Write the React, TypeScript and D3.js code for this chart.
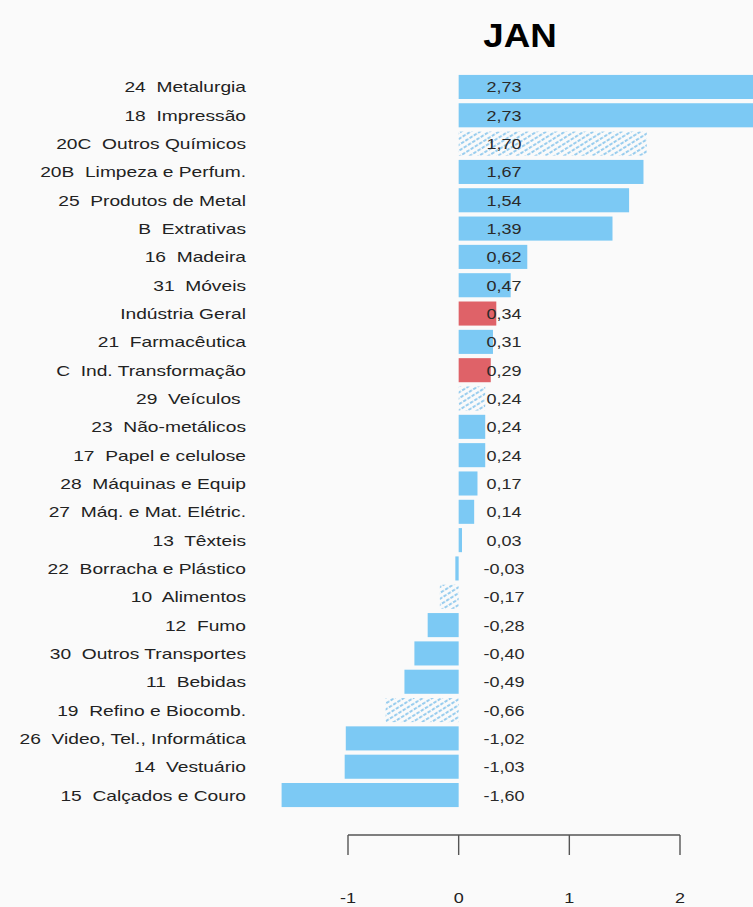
import React from "react";
import * as d3 from "d3";

const categories = [
  "24  Metalurgia",
  "18  Impressão",
  "20C  Outros Químicos",
  "20B  Limpeza e Perfum.",
  "25  Produtos de Metal",
  "B  Extrativas",
  "16  Madeira",
  "31  Móveis",
  "Indústria Geral",
  "21  Farmacêutica",
  "C  Ind. Transformação",
  "29  Veículos ",
  "23  Não-metálicos",
  "17  Papel e celulose",
  "28  Máquinas e Equip",
  "27  Máq. e Mat. Elétric.",
  "13  Têxteis",
  "22  Borracha e Plástico",
  "10  Alimentos",
  "12  Fumo",
  "30  Outros Transportes",
  "11  Bebidas",
  "19  Refino e Biocomb.",
  "26  Video, Tel., Informática",
  "14  Vestuário",
  "15  Calçados e Couro",
];

const values = [
  2.73, 2.73, 1.7, 1.67, 1.54, 1.39, 0.62, 0.47, 0.34, 0.31, 0.29, 0.24, 0.24,
  0.24, 0.17, 0.14, 0.03, -0.03, -0.17, -0.28, -0.4, -0.49, -0.66, -1.02,
  -1.03, -1.6,
];

// fill kind per bar: s = solid, h = hatched, r = red
const kinds = [
  "s", "s", "h", "s", "s", "s", "s", "s", "r", "s", "r", "h", "s",
  "s", "s", "s", "s", "s", "h", "s", "s", "s", "h", "s", "s", "s",
];

const ticks = [-1, 0, 1, 2];

const W = 753;
const H = 907;
const BLUE = "#7cc9f4";
const RED = "#df6268";
const FONT = "'Liberation Sans', Arial, sans-serif";

export default function App() {
  const x = d3.scaleLinear().domain([-1, 2]).range([348, 680]);
  const y = d3
    .scaleBand<string>()
    .domain(categories)
    .range([72.8, 809.2])
    .paddingInner(0.15)
    .paddingOuter(0.075);

  const fmt = (v: number) => v.toFixed(2).replace(".", ",");
  const fillFor = (k: string) =>
    k === "r" ? RED : k === "h" ? "url(#hatch)" : BLUE;

  return (
    <svg
      width={W}
      height={H}
      style={{ position: "absolute", left: 0, top: 0, background: "#fafafa" }}
      fontFamily={FONT}
    >
      <defs>
        <pattern
          id="hatch"
          width="5"
          height="5"
          patternUnits="userSpaceOnUse"
          patternTransform="rotate(-32)"
        >
          <rect width="5" height="5" fill="#fafafa" />
          <line x1="0" y1="1" x2="5" y2="1" stroke="#58b0e6" strokeWidth="1.2" strokeDasharray="3.5 1.5" />
        </pattern>
      </defs>

      <text
        transform="translate(520,47) scale(1.08,1)"
        textAnchor="middle"
        fontSize={34}
        fontWeight="bold"
      >
        JAN
      </text>

      {categories.map((c, i) => {
        const v = values[i];
        const yy = y(c)!;
        const bh = y.bandwidth();
        const ty = yy + bh / 2 + 5.5;
        return (
          <g key={c}>
            <text
              transform={`translate(246,${ty}) scale(1.28,1)`}
              textAnchor="end"
              fontSize={15}
              fill="#222"
              style={{ whiteSpace: "pre" }}
            >
              {c}
            </text>
            <rect
              x={x(Math.min(0, v))}
              y={yy}
              width={Math.abs(x(v) - x(0))}
              height={bh}
              fill={fillFor(kinds[i])}
            />
            <text
              transform={`translate(${x(0.4) + 1},${ty}) scale(1.2,1)`}
              textAnchor="middle"
              fontSize={15}
              fill="#2a2a2a"
            >
              {fmt(v)}
            </text>
          </g>
        );
      })}

      <g stroke="#555" strokeWidth={1.4} fill="none">
        <line x1={x(-1)} x2={x(2)} y1={835} y2={835} />
        {ticks.map((t) => (
          <line key={t} x1={x(t)} x2={x(t)} y1={835} y2={855} />
        ))}
      </g>
      {ticks.map((t) => (
        <text
          key={t}
          transform={`translate(${x(t)},903) scale(1.2,1)`}
          textAnchor="middle"
          fontSize={15}
          fill="#222"
        >
          {t}
        </text>
      ))}
    </svg>
  );
}
